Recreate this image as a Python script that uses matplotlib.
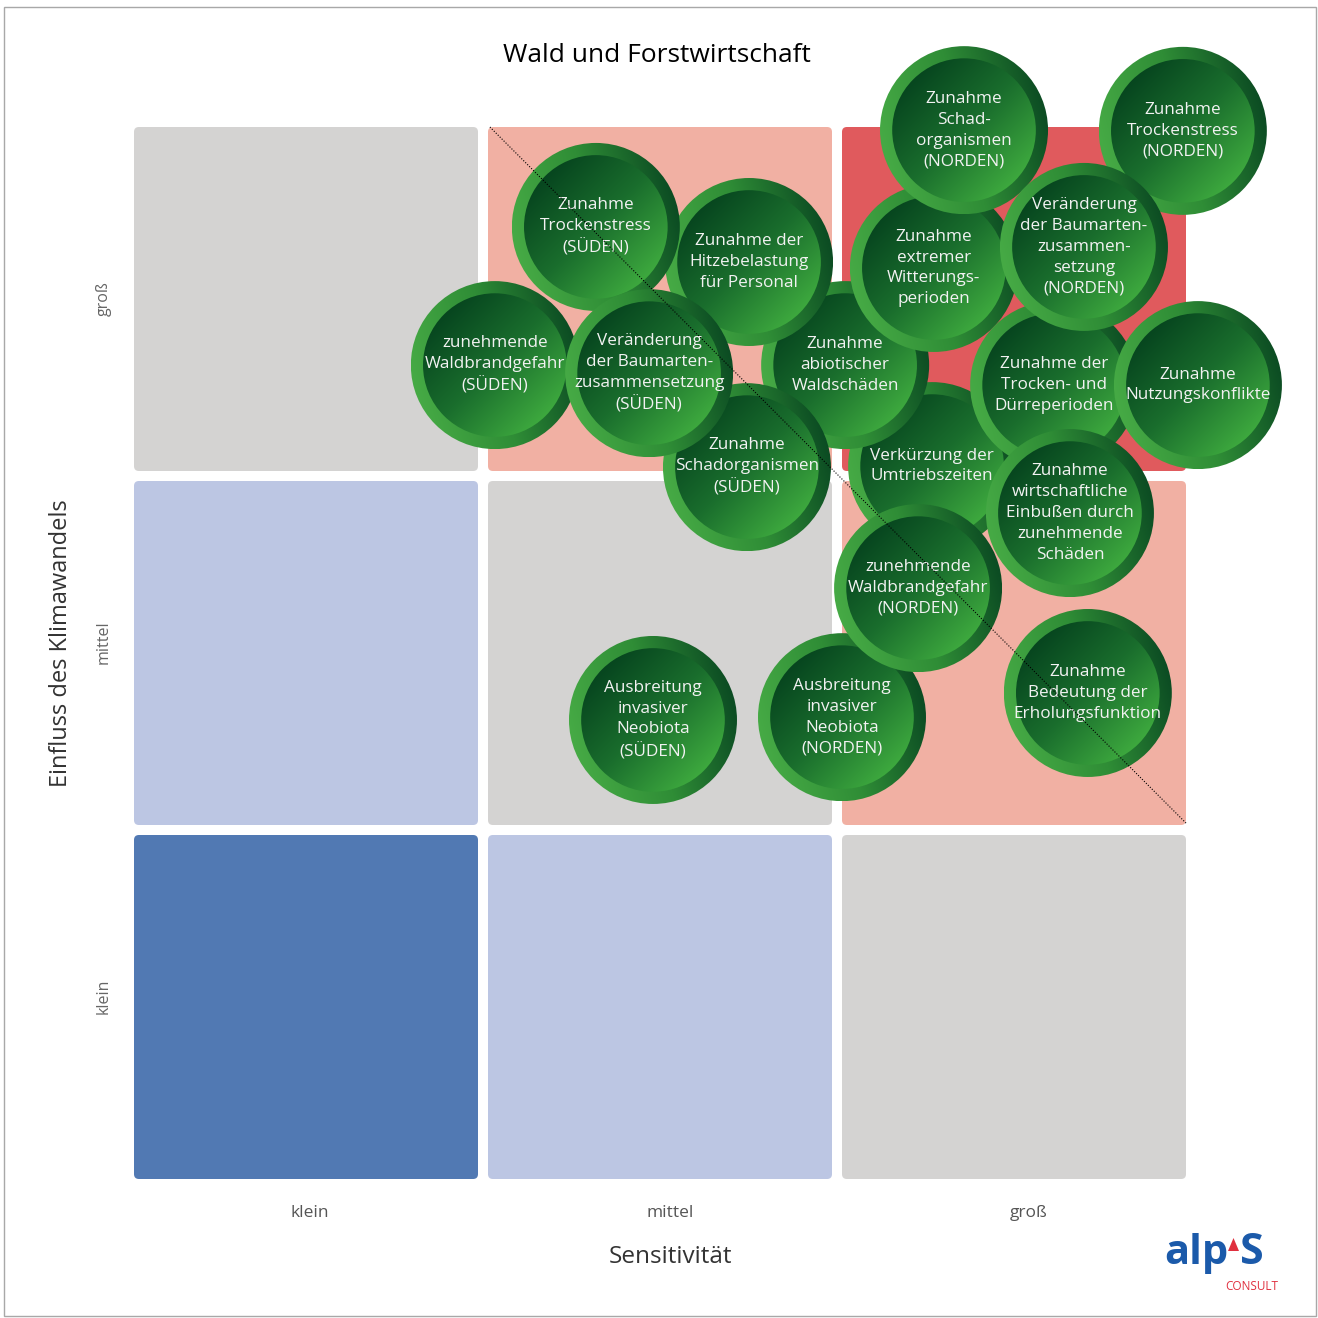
import numpy as np
import matplotlib
matplotlib.use("Agg")
import matplotlib.pyplot as plt
from matplotlib.patches import Circle, FancyBboxPatch, Rectangle, Polygon
from matplotlib.colors import LinearSegmentedColormap

plt.rcParams['font.family'] = ['Open Sans', 'DejaVu Sans']

# ---------------- data ----------------
title = "Wald und Forstwirtschaft"
x_label = "Sensitivität"
y_label = "Einfluss des Klimawandels"
level_labels = ["klein", "mittel", "groß"]
x_tick_pos = [0.50, 1.53, 2.55]
y_tick_pos = [0.52, 1.53, 2.51]

# rows from bottom (klein) to top (groß); columns klein..groß
cell_colors = [
    ["#5179B3", "#BCC6E3", "#D4D3D2"],
    ["#BCC6E3", "#D4D3D2", "#F1B0A3"],
    ["#D4D3D2", "#F1B0A3", "#E05A5D"],
]

# bubbles (drawing order: back to front)
bubble_labels = [
    "Verkürzung der\nUmtriebszeiten",
    "Zunahme\nabiotischer\nWaldschäden",
    "Zunahme\nSchadorganismen\n(SÜDEN)",
    "Zunahme der\nHitzebelastung\nfür Personal",
    "Zunahme\nTrockenstress\n(SÜDEN)",
    "zunehmende\nWaldbrandgefahr\n(SÜDEN)",
    "Veränderung\nder Baumarten-\nzusammensetzung\n(SÜDEN)",
    "Zunahme\nextremer\nWitterungs-\nperioden",
    "Zunahme der\nTrocken- und\nDürreperioden",
    "Zunahme\nSchad-\norganismen\n(NORDEN)",
    "Zunahme\nTrockenstress\n(NORDEN)",
    "Veränderung\nder Baumarten-\nzusammen-\nsetzung\n(NORDEN)",
    "Zunahme\nNutzungskonflikte",
    "Zunahme\nwirtschaftliche\nEinbußen durch\nzunehmende\nSchäden",
    "Ausbreitung\ninvasiver\nNeobiota\n(SÜDEN)",
    "Ausbreitung\ninvasiver\nNeobiota\n(NORDEN)",
    "zunehmende\nWaldbrandgefahr\n(NORDEN)",
    "Zunahme\nBedeutung der\nErholungsfunktion",
]
bubble_sens = [2.276, 2.028, 1.748, 1.754, 1.317, 1.029, 1.469, 2.281, 2.624,
               2.367, 2.991, 2.709, 3.034, 2.669, 1.480, 2.019, 2.236, 2.720]
bubble_impact = [2.033, 2.321, 2.030, 2.615, 2.715, 2.321, 2.298, 2.598, 2.264,
                 2.991, 2.989, 2.658, 2.264, 1.899, 1.309, 1.317, 1.685, 1.386]

# ---------------- layout ----------------
FIG = 1318
left_px, right_px, top_px, bottom_px = 134, 1186, 127, 1179
S = (right_px - left_px) / 3.0   # px per data unit
fig = plt.figure(figsize=(FIG / 100, FIG / 100), dpi=100)
fig.patch.set_facecolor("white")

ax = fig.add_axes([left_px / FIG, (FIG - bottom_px) / FIG,
                   (right_px - left_px) / FIG, (bottom_px - top_px) / FIG])
ax.set_xlim(0, 3)
ax.set_ylim(0, 3)
for sp in ax.spines.values():
    sp.set_visible(False)
ax.set_facecolor("white")

cw = 344 / S
step = (3 - cw) / 2
for r in range(3):
    for c in range(3):
        ax.add_patch(FancyBboxPatch((c * step, r * step), cw, cw,
                                    boxstyle="round,pad=0,rounding_size=0.014",
                                    fc=cell_colors[r][c], ec="none"))

ax.set_xticks(x_tick_pos)
ax.set_xticklabels(level_labels, fontsize=12.5, color="#555555")
ax.set_yticks(y_tick_pos)
ax.set_yticklabels(level_labels, fontsize=11.5, color="#666666", rotation=90, va="center")
ax.tick_params(axis="x", length=0, pad=19)
ax.tick_params(axis="y", length=0, pad=16)

ax.set_xlabel(x_label, fontsize=17.5, color="#333333", va="center")
ax.xaxis.set_label_coords((670 - left_px) / (right_px - left_px),
                          (bottom_px - 1257) / (bottom_px - top_px))
ax.set_ylabel(y_label, fontsize=17, color="#333333", va="center")
ax.yaxis.set_label_coords((61 - left_px) / (right_px - left_px),
                          (bottom_px - 643) / (bottom_px - top_px))

fig.text(657 / FIG, 1 - 55 / FIG, title, fontsize=19, color="black",
         ha="center", va="center")

# overlay axes covering the whole figure, same data scale
ax2 = fig.add_axes([0, 0, 1, 1], zorder=5)
ax2.set_xlim(-left_px / S, (FIG - left_px) / S)
ax2.set_ylim(-(FIG - bottom_px) / S, bottom_px / S)
ax2.axis("off")

ring_cmap = LinearSegmentedColormap.from_list("ring", ["#46AA45", "#2F8D36", "#0C4C23"])
inner_cmap = LinearSegmentedColormap.from_list("inner", ["#07461F", "#1A6E2D", "#3DA83E"])

R = 84 / S
Rin = R * 0.855
g = np.linspace(-1, 1, 120)
GX, GY = np.meshgrid(g, g)
a = np.deg2rad(15)
ring_val = (GX * np.cos(a) + GY * np.sin(a))
inner_val = (GX - GY) / np.sqrt(2)

z = 10
for lab, xs, yi in zip(bubble_labels, bubble_sens, bubble_impact):
    circ_o = Circle((xs, yi), R, transform=ax2.transData)
    im = ax2.imshow(ring_val, cmap=ring_cmap, vmin=-1, vmax=1, origin="lower",
                    extent=[xs - R, xs + R, yi - R, yi + R], aspect="auto",
                    interpolation="bilinear", zorder=z)
    im.set_clip_path(circ_o)
    circ_i = Circle((xs, yi), Rin, transform=ax2.transData)
    im2 = ax2.imshow(inner_val, cmap=inner_cmap, vmin=-1, vmax=1, origin="lower",
                     extent=[xs - Rin, xs + Rin, yi - Rin, yi + Rin], aspect="auto",
                     interpolation="bilinear", zorder=z + 1)
    im2.set_clip_path(circ_i)
    ax2.text(xs, yi, lab, ha="center", va="center", fontsize=12.3, color="#F2F2F2",
             linespacing=1.4, zorder=z + 2)
    z += 3
ax2.set_xlim(-left_px / S, (FIG - left_px) / S)
ax2.set_ylim(-(FIG - bottom_px) / S, bottom_px / S)

# dotted diagonal
ax2.plot([1.015, 3.0], [3.0, 1.015], ls=(0, (1, 1.5)), color="black", lw=0.8, zorder=200)

# frame around figure
fig.add_artist(Rectangle((4 / FIG, 2 / FIG), 1312 / FIG, 1309 / FIG,
                         transform=fig.transFigure, fill=False, ec="#A8A8A8", lw=1))

# logo
fig.text(1196 / FIG, 1 - 1264 / FIG, "alp", fontsize=30, fontweight="bold",
         color="#1B5AAA", ha="center", va="baseline")
fig.text(1252 / FIG, 1 - 1264 / FIG, "S", fontsize=31, fontweight="bold",
         color="#1B5AAA", ha="center", va="baseline")
fig.add_artist(Polygon([(1228 / FIG, 1 - 1251 / FIG), (1239 / FIG, 1 - 1251 / FIG),
                        (1233.5 / FIG, 1 - 1238 / FIG)], closed=True,
                       transform=fig.transFigure, fc="#E0303F", ec="none"))
fig.text(1252 / FIG, 1 - 1287 / FIG, "CONSULT", fontsize=8.5, color="#E0303F",
         ha="center", va="center")

fig.savefig("out.png", dpi=100, facecolor="white")
